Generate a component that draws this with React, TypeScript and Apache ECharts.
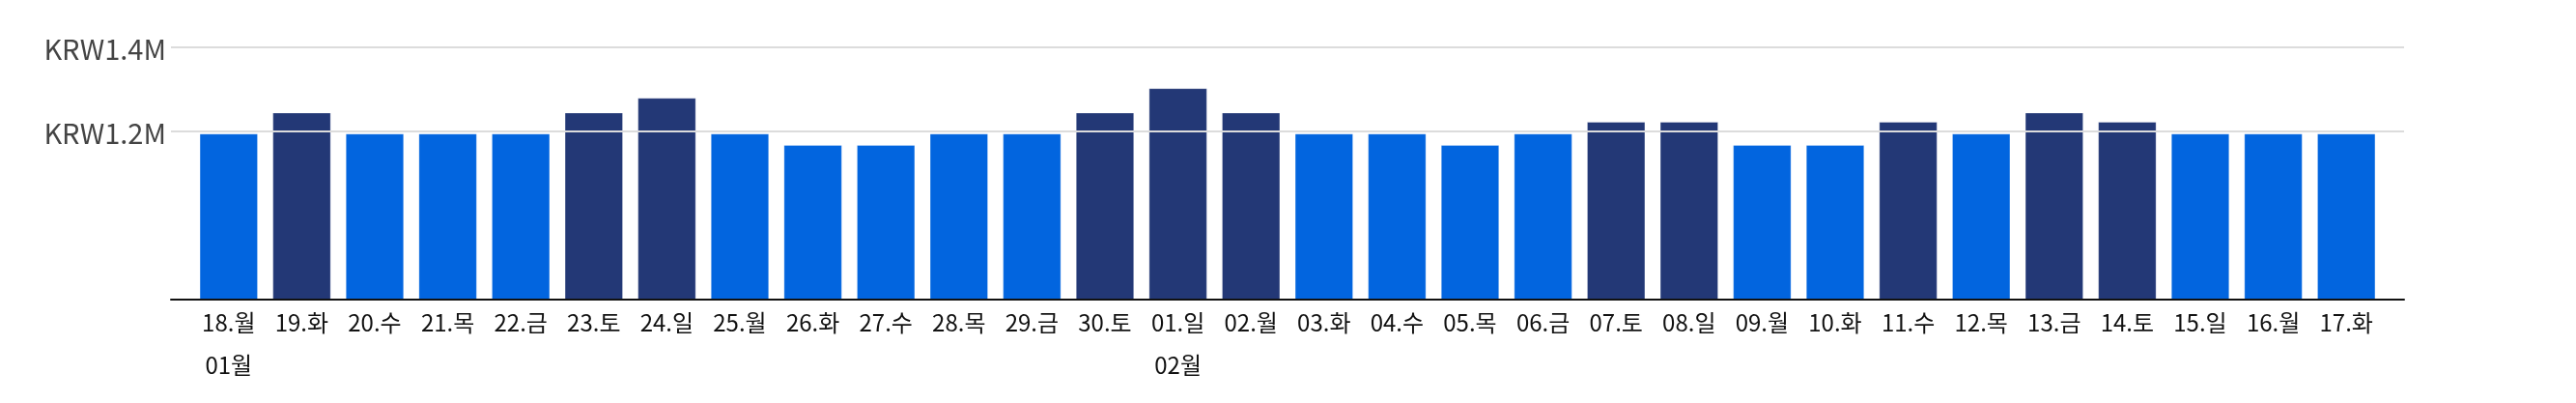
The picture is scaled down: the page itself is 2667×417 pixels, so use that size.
import {useEffect, useRef} from 'react';
import * as echarts from 'echarts';

// day labels along the x axis
const days = [
    '18.월', '19.화', '20.수', '21.목', '22.금', '23.토', '24.일', '25.월', '26.화', '27.수',
    '28.목', '29.금', '30.토', '01.일', '02.월', '03.화', '04.수', '05.목', '06.금', '07.토',
    '08.일', '09.월', '10.화', '11.수', '12.목', '13.금', '14.토', '15.일', '16.월', '17.화'
];

// price per day (KRW)
const prices = [
    1195000, 1245000, 1195000, 1195000, 1195000, 1245000, 1280000, 1195000, 1168000, 1168000,
    1195000, 1195000, 1245000, 1303000, 1245000, 1195000, 1195000, 1168000, 1195000, 1223000,
    1223000, 1168000, 1168000, 1223000, 1195000, 1245000, 1223000, 1195000, 1195000, 1195000
];

// 1 = dark bar, 0 = blue bar
const peak = [
    0, 1, 0, 0, 0, 1, 1, 0, 0, 0,
    0, 0, 1, 1, 1, 0, 0, 0, 0, 1,
    1, 0, 0, 1, 0, 1, 1, 0, 0, 0
];

// month captions under the first day of each month
const monthLabels = ['01월', '02월'];
const monthStart = [0, 13];

// y ticks that carry a label and a grid line
const yTicks = [1200000, 1400000];

const yMin = 800000;
const yMax = 1400000;
const yStep = 200000;

const FONT = '"Noto Sans CJK KR", "Noto Sans", sans-serif';
const BLUE = '#0265DF';
const DARK = '#233876';

export default function App() {
    const ref = useRef<HTMLDivElement | null>(null);

    useEffect(() => {
        if (!ref.current) return;
        const chart = echarts.init(ref.current, null, {renderer: 'svg'});

        // one colour per split line, from min upwards
        const lineColors: string[] = [];
        for (let v = yMin; v <= yMax; v += yStep) {
            lineColors.push(yTicks.includes(v) ? '#dcdcdc' : 'rgba(0,0,0,0)');
        }

        chart.setOption({
            animation: false,
            textStyle: {fontFamily: FONT},
            grid: [
                {left: 177, right: 178, top: 49, bottom: 107},
                {left: 199, right: 200, top: 49, bottom: 107}
            ],
            xAxis: [
                {
                    gridIndex: 0, type: 'value', min: 0, max: 1, z: 3,
                    axisLine: {show: true, lineStyle: {color: '#111', width: 2}},
                    axisTick: {show: false}, axisLabel: {show: false}, splitLine: {show: false}
                },
                {
                    gridIndex: 1, type: 'category', data: days,
                    axisLine: {show: false}, axisTick: {show: false},
                    axisLabel: {
                        color: '#111', fontSize: 24, fontFamily: FONT, lineHeight: 44, margin: 0,
                        interval: 0,
                        formatter: (val: string, idx: number) => {
                            const m = monthStart.indexOf(idx);
                            return m >= 0 ? val + '\n' + monthLabels[m] : val;
                        }
                    }
                }
            ],
            yAxis: [
                {
                    gridIndex: 0, type: 'value', min: yMin, max: yMax, interval: yStep, z: 3,
                    axisLine: {show: false}, axisTick: {show: false},
                    axisLabel: {
                        color: '#444', fontSize: 29, fontFamily: FONT, margin: 5,
                        formatter: (v: number) =>
                            yTicks.includes(Math.round(v)) ? 'KRW' + (v / 1000000).toFixed(1) + 'M' : ''
                    },
                    splitLine: {show: true, lineStyle: {color: lineColors, width: 2}}
                },
                {
                    gridIndex: 1, type: 'value', min: yMin, max: yMax, show: false,
                    splitLine: {show: false}
                }
            ],
            series: [
                {
                    type: 'bar', xAxisIndex: 1, yAxisIndex: 1, barCategoryGap: '20%',
                    data: prices.map((v, i) => ({
                        value: v,
                        itemStyle: {
                            color: peak[i] ? DARK : BLUE,
                            borderColor: 'rgba(255,255,255,0.3)', borderWidth: 1
                        }
                    }))
                }
            ]
        });

        return () => chart.dispose();
    }, []);

    return <div ref={ref} style={{position: 'fixed', left: 0, top: 0, width: 2667, height: 417}}/>;
}
